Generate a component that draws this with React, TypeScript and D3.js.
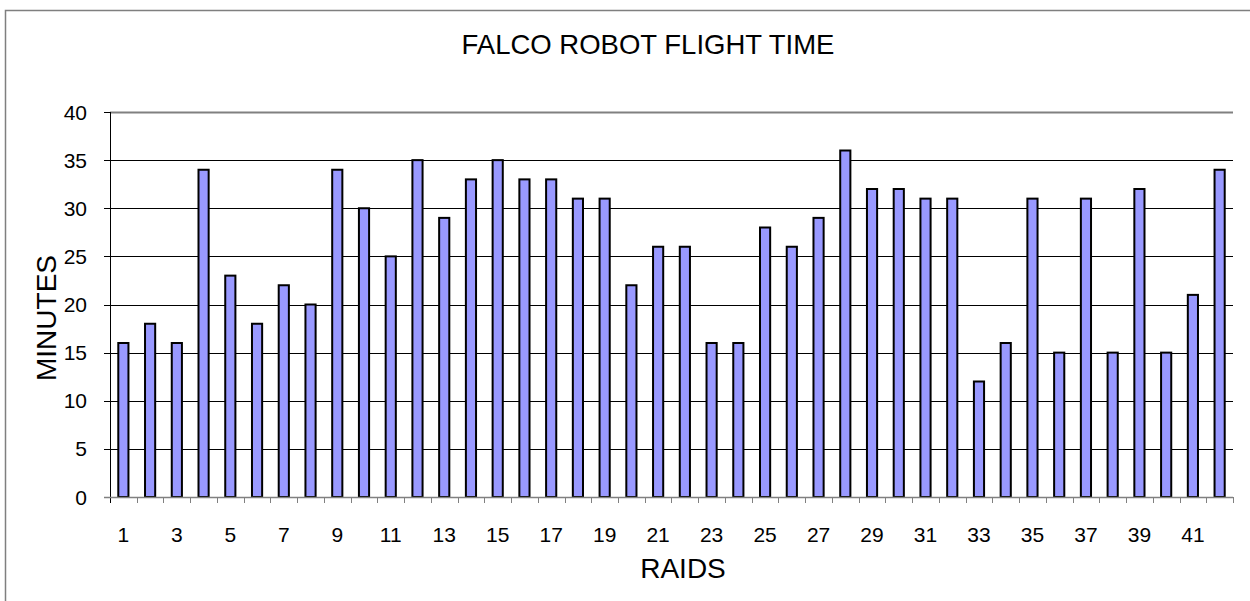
import React from 'react';
import { scaleBand, scaleLinear, range } from 'd3';

const width = 1250;
const height = 601;

const raids = range(1, 43);
const minutes = [16, 18, 16, 34, 23, 18, 22, 20, 34, 30, 25, 35, 29, 33, 35, 33, 33, 31, 31, 22, 26, 26, 16, 16, 28, 26, 29, 36, 32, 32, 31, 31, 12, 16, 31, 15, 31, 15, 32, 15, 21, 34];
const yTicks = [0, 5, 10, 15, 20, 25, 30, 35, 40];
const xLabels = raids.filter(d => d % 2 === 1);

const plot = { left: 110, right: 1233, top: 112, bottom: 497 };
const font = 'Arial, "Liberation Sans", sans-serif';

const App = () => {
  const xScale = scaleBand<number>()
    .domain(raids)
    .range([plot.left, plot.right])
    .paddingInner(0.62)
    .paddingOuter(0.31);

  const yScale = scaleLinear()
    .domain([0, 40])
    .range([plot.bottom, plot.top]);

  const step = xScale.step();
  const bandStart = (d: number) => xScale(d)! - step * 0.31;

  return (
    <div style={{ position: 'absolute', left: 0, top: 0 }}>
      <svg width={width} height={height} style={{ display: 'block', background: '#fff' }}>
        <rect x={5.5} y={10.5} width={1300} height={700} fill="none" stroke="#7f7f7f" strokeWidth={1.5} />
        <text x={648} y={54} fontSize={27.5} fontFamily={font} textAnchor="middle">FALCO ROBOT FLIGHT TIME</text>

        {yTicks.map(t => (
          <g key={t}>
            {t > 0 && (
              <line x1={plot.left} x2={plot.right} y1={Math.round(yScale(t)) + 0.5} y2={Math.round(yScale(t)) + 0.5}
                stroke={t === 40 ? '#808080' : '#000'} strokeWidth={t === 40 ? 2 : 1} />
            )}
            <line x1={plot.left - 6} x2={plot.left} y1={Math.round(yScale(t)) + 0.5} y2={Math.round(yScale(t)) + 0.5} stroke="#000" />
            <text x={87} y={yScale(t)} dy="0.36em" fontSize={21} fontFamily={font} textAnchor="end">{t}</text>
          </g>
        ))}

        {raids.map((d, i) => (
          <rect key={d}
            x={xScale(d)}
            y={yScale(minutes[i])}
            width={xScale.bandwidth()}
            height={yScale(0) - yScale(minutes[i])}
            fill="#9999ff" stroke="#000" strokeWidth={2} />
        ))}

        <line x1={plot.left + 0.5} x2={plot.left + 0.5} y1={plot.top} y2={plot.bottom + 6} stroke="#000" />
        <line x1={plot.left - 6} x2={plot.right} y1={plot.bottom + 0.5} y2={plot.bottom + 0.5} stroke="#808080" strokeWidth={1.5} />
        {raids.map(d => (
          <line key={d} x1={Math.round(bandStart(d) + step) + 0.5} x2={Math.round(bandStart(d) + step) + 0.5}
            y1={plot.bottom} y2={plot.bottom + 6} stroke="#808080" />
        ))}
        {xLabels.map(d => (
          <text key={d} x={xScale(d)! + xScale.bandwidth() / 2} y={542} fontSize={21} fontFamily={font} textAnchor="middle">{d}</text>
        ))}

        <text x={683} y={578} fontSize={28} fontFamily={font} textAnchor="middle">RAIDS</text>
        <text transform="translate(56,318) rotate(-90)" fontSize={28} fontFamily={font} textAnchor="middle">MINUTES</text>
      </svg>
    </div>
  );
};

export default App;
